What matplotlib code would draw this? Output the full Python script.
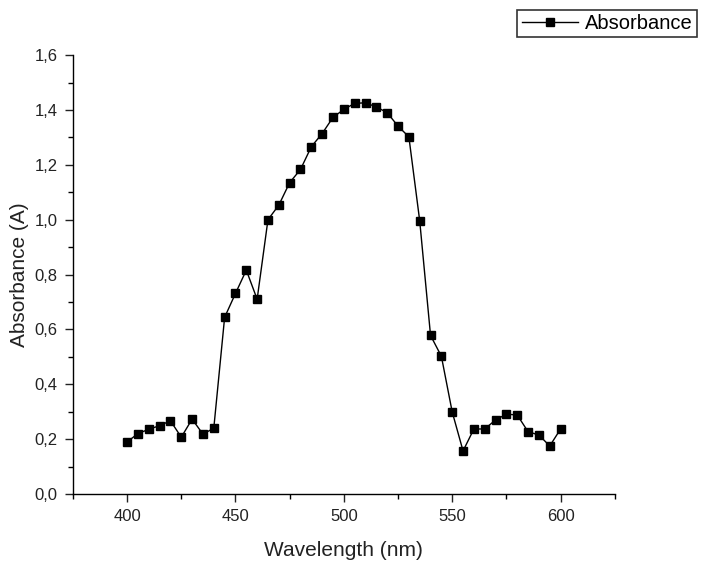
import matplotlib
matplotlib.use("Agg")
import matplotlib.pyplot as plt
from matplotlib.ticker import MultipleLocator, FuncFormatter

plt.rcParams['font.family'] = ['Liberation Sans', 'DejaVu Sans']

wavelength = list(range(400, 601, 5))
absorbance = [0.19, 0.22, 0.236, 0.249, 0.267, 0.207, 0.273, 0.218, 0.24,
              0.644, 0.731, 0.816, 0.71, 1.0, 1.053, 1.135, 1.183, 1.266,
              1.314, 1.373, 1.402, 1.424, 1.426, 1.411, 1.39, 1.341, 1.302,
              0.996, 0.578, 0.502, 0.299, 0.157, 0.237, 0.237, 0.27, 0.291,
              0.288, 0.227, 0.215, 0.175, 0.237]

fig = plt.figure(figsize=(7.01, 5.62), dpi=100)
ax = fig.add_axes([0.104, 0.121, 0.773, 0.781])

line, = ax.plot(wavelength, absorbance, color='black', lw=1.0,
                marker='s', markersize=6.3, label='Absorbance')

ax.set_xlim(375, 625)
ax.set_ylim(0, 1.6)
ax.xaxis.set_major_locator(MultipleLocator(50))
ax.xaxis.set_minor_locator(MultipleLocator(25))
ax.yaxis.set_major_locator(MultipleLocator(0.2))
ax.yaxis.set_minor_locator(MultipleLocator(0.1))
ax.yaxis.set_major_formatter(FuncFormatter(lambda v, p: f"{v:.1f}".replace('.', ',')))
ax.xaxis.set_major_formatter(FuncFormatter(lambda v, p: f"{v:.0f}"))

for s in ['top', 'right']:
    ax.spines[s].set_visible(False)
for s in ['left', 'bottom']:
    ax.spines[s].set_linewidth(1.0)

ax.tick_params(which='major', direction='out', length=6, width=1, labelsize=12,
               colors='#222222', pad=5)
ax.tick_params(which='minor', direction='out', length=3.5, width=1)

ax.set_xlabel('Wavelength (nm)', fontsize=15, color='#222222', labelpad=12)
ax.set_ylabel('Absorbance (A)', fontsize=15, color='#222222', labelpad=4)

leg = fig.legend(handles=[line], loc='upper right', bbox_to_anchor=(0.995, 0.983),
                 fontsize=14.5, frameon=True, fancybox=False, handlelength=2.8,
                 borderpad=0.22, handletextpad=0.35, borderaxespad=0)
leg.get_frame().set_edgecolor('black')
leg.get_frame().set_linewidth(1.2)

fig.savefig('out.png', dpi=100)
